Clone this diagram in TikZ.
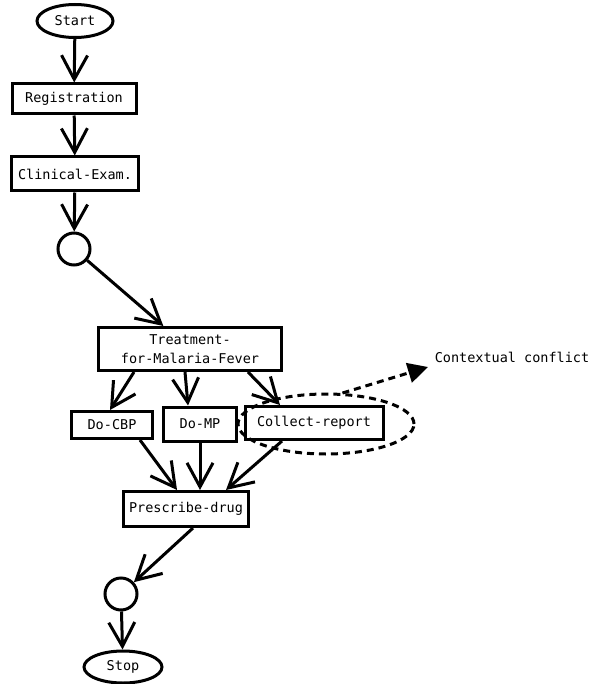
\documentclass[tikz,border=0pt]{standalone}
\usepackage{fontspec}
\setmonofont{DejaVu Sans Mono}
\usetikzlibrary{arrows.meta,shapes.geometric}
\begin{document}
\begin{tikzpicture}[x=1pt,y=-1pt,line width=3pt,
  font=\ttfamily\fontsize{13.5pt}{19pt}\selectfont,
  box/.style={draw,rectangle,inner sep=2pt},
  term/.style={draw,ellipse,inner sep=0pt},
  junct/.style={draw,circle,minimum size=32pt,inner sep=0pt},
  flow/.style={-{Straight Barb[length=24pt,width=26pt]}},
  conflict/.style={dashed,dash pattern=on 7pt off 5pt}]
\useasboundingbox (0,0) rectangle (592,684);
\node[term,minimum width=76pt,minimum height=33pt] (start) at (75,21) {Start};
\node[box,minimum width=124pt,minimum height=30pt] (reg) at (74,99) {Registration};
\node[box,minimum width=127pt,minimum height=34pt] (clin) at (75,174) {Clinical-Exam.};
\node[junct] (j1) at (74,249) {};
\node[box,minimum width=183pt,minimum height=43pt,align=center] (treat) at (190,349) {Treatment-\\for-Malaria-Fever};
\node[box,minimum width=81pt,minimum height=27pt] (cbp) at (112,425) {Do-CBP};
\node[box,minimum width=73pt,minimum height=34pt] (mp) at (200,424) {Do-MP};
\node[box,minimum width=138pt,minimum height=33pt] (coll) at (314,423) {Collect-report};
\node[term,conflict,minimum width=176pt,minimum height=60pt] (ctx) at (326,424) {};
\coordinate (tip) at (428,367);
\node (ctxlabel) at (512,357) {Contextual conflict};
\node[box,minimum width=125pt,minimum height=35pt] (presc) at (186,509) {Prescribe-drug};
\node[junct] (j2) at (121,594) {};
\node[term,minimum width=78pt,minimum height=32pt] (stop) at (123,667) {Stop};

\draw[flow] (start) -- (reg);
\draw[flow] (reg) -- (clin);
\draw[flow] (clin) -- (j1);
\draw[flow] (j1) -- (treat);
\draw[flow] ([xshift=-56pt]treat.south) -- ([xshift=-2pt]cbp.north);
\draw[flow] ([xshift=-5pt]treat.south) -- ([xshift=-12pt]mp.north);
\draw[flow] ([xshift=58pt]treat.south) -- ([xshift=-34pt]coll.north);
\draw[flow] ([xshift=28pt]cbp.south) -- ([xshift=-9pt]presc.north);
\draw[flow] (mp.south) -- (mp.south |- presc.north);
\draw[flow] ([xshift=-32pt]coll.south) -- ([xshift=40pt]presc.north);
\draw[flow] ([xshift=7pt]presc.south) -- (j2);
\draw[flow] (j2) -- (stop);
\draw[conflict,-{Triangle[length=20pt,width=20pt]}] (ctx.62) -- (tip);
\end{tikzpicture}
\end{document}
